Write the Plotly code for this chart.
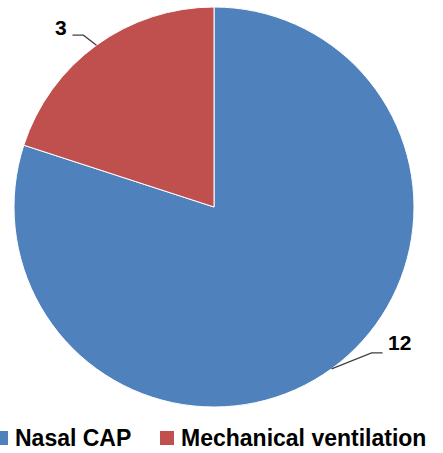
import math
import plotly.graph_objects as go

labels = ["Nasal CAP", "Mechanical ventilation"]
values = [12, 3]
colors = ["#4F81BD", "#C0504D"]

W, H = 443, 453
cx, cy, R = 214, 207, 200  # pie centre / radius in px (layout)

# per-label styling: elbow offset from arc midpoint, horizontal run, text side, text lift
label_style = [
    {"dx": 40, "dy": -16, "run": 11, "side": "right", "lift": 10},
    {"dx": -13, "dy": -10, "run": -11, "side": "left", "lift": 8},
]
# legend layout (px): left edge of each swatch, swatch size, text gap, row centre
legend_x = [-6, 160]
sw, gap, legend_y = 14, 5, 438

FONT = "Liberation Sans, Arial"

fig = go.Figure(go.Pie(
    labels=labels, values=values, sort=False, direction="clockwise", rotation=0,
    marker=dict(colors=colors, line=dict(color="white", width=1)),
    textinfo="none", hoverinfo="label+value", showlegend=False,
    domain=dict(x=[(cx - R) / W, (cx + R) / W], y=[1 - (cy + R) / H, 1 - (cy - R) / H]),
))

def px(x, y):
    return x / W, 1 - y / H

total = sum(values)
cum = 0
shapes, annotations = [], []
for v, st in zip(values, label_style):
    mid = (cum + v / 2) / total * 2 * math.pi
    cum += v
    ax, ay = cx + R * math.sin(mid), cy - R * math.cos(mid)
    ex, ey = ax + st["dx"], ay + st["dy"]
    fx, fy = ex + st["run"], ey
    path = "M {} {} L {} {} L {} {}".format(*px(ax, ay), *px(ex, ey), *px(fx, fy))
    shapes.append(dict(type="path", xref="paper", yref="paper", path=path,
                       line=dict(color="#404040", width=1.3)))
    tx, ty = px(fx + (3 if st["side"] == "right" else -3), fy - st["lift"])
    annotations.append(dict(xref="paper", yref="paper", x=tx, y=ty, text=str(v),
                            showarrow=False,
                            xanchor="left" if st["side"] == "right" else "right",
                            yanchor="middle",
                            font=dict(family=FONT, size=21, color="black", weight="bold")))

# legend drawn as swatches + text
for lab, col, lx in zip(labels, colors, legend_x):
    x0, y0 = px(lx, legend_y + sw / 2)
    x1, y1 = px(lx + sw, legend_y - sw / 2)
    shapes.append(dict(type="rect", xref="paper", yref="paper", x0=x0, y0=y0, x1=x1, y1=y1,
                       fillcolor=col, line=dict(width=0)))
    tx, ty = px(lx + sw + gap, legend_y)
    annotations.append(dict(xref="paper", yref="paper", x=tx, y=ty, text=lab,
                            showarrow=False, xanchor="left", yanchor="middle",
                            font=dict(family=FONT, size=23, color="black", weight="bold")))

fig.update_layout(
    width=W, height=H, margin=dict(l=0, r=0, t=0, b=0),
    paper_bgcolor="white", plot_bgcolor="white",
    shapes=shapes, annotations=annotations, showlegend=False,
)

fig.write_html("out.html", config={"displayModeBar": False},
               post_script="document.body.style.margin='0';document.body.style.overflow='hidden';")
